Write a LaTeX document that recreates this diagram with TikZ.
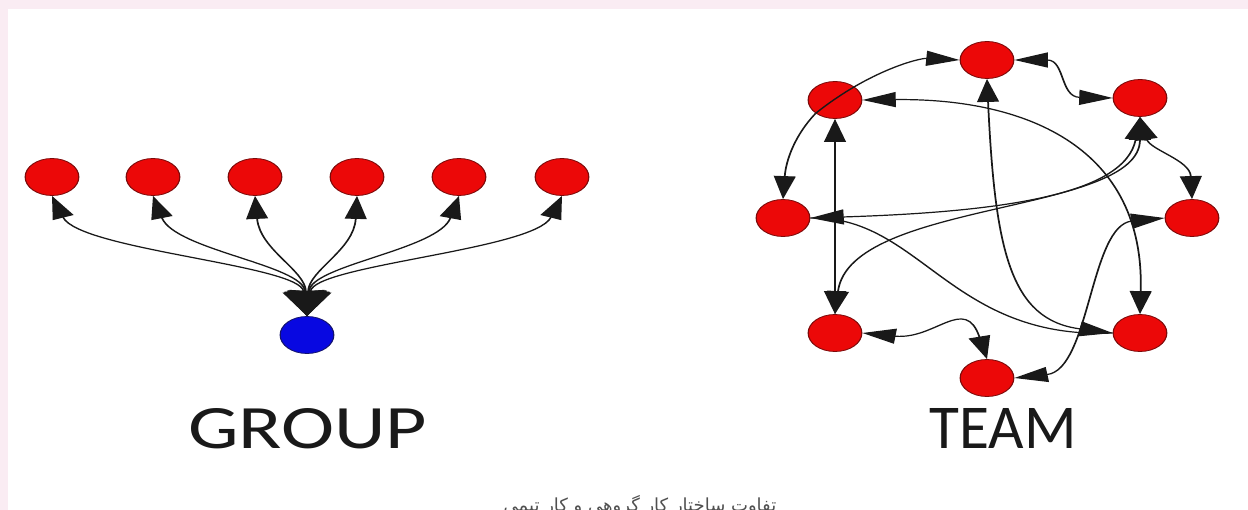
\documentclass[tikz,border=0pt]{standalone}
\usepackage{fontspec}
\usetikzlibrary{arrows.meta}
\newfontfamily\labelfont{Carlito}
\newfontfamily\arabicfont[Script=Arabic]{DejaVu Sans}
\TeXXeTstate=1
\definecolor{nodered}{RGB}{236,8,8}
\definecolor{noderim}{RGB}{125,10,10}
\definecolor{nodeblue}{RGB}{8,8,225}
\definecolor{bluerim}{RGB}{20,20,110}
\definecolor{framepink}{RGB}{250,236,243}
\definecolor{captiongray}{RGB}{80,80,80}
\tikzset{
  member/.style={circle, minimum size=37pt, inner sep=0pt, fill=nodered, draw=noderim, line width=0.8pt},
  leader/.style={member, fill=nodeblue, draw=bluerim},
  link/.style={line width=1.2pt, draw=black!90, >={Triangle[length=23pt,width=15pt]}},
  bigtip/.tip={Triangle[length=25pt,width=29pt]},
  caption/.style={anchor=base, text=captiongray, inner sep=0pt},
  title/.style={anchor=base, inner sep=0pt, text=black!90}
}
\begin{document}
\begin{tikzpicture}[x=1pt,y=-1pt]
\useasboundingbox (0,0) rectangle (1248,510);
\fill[framepink] (0,0) rectangle (1248,510);
\fill[white] (8,9) rectangle (1248,510);

% both diagrams are drawn on a canvas stretched horizontally
\begin{scope}[transform canvas={xscale=1.45}, x=0.689655pt, y=-1pt]
  % group: one leader, six members
  \node[member] (g1) at (52,177) {};
  \node[member] (g2) at (153,177) {};
  \node[member] (g3) at (255,177) {};
  \node[member] (g4) at (357,177) {};
  \node[member] (g5) at (459,177) {};
  \node[member] (g6) at (562,177) {};
  \node[leader] (b) at (307,335) {};

  \draw[link, arrows={bigtip->}] (b.north) .. controls (300,265) and (80,250) .. (g1.south);
  \draw[link, arrows={bigtip->}] (b.north) .. controls (303,265) and (175,250) .. (g2.south);
  \draw[link, arrows={bigtip->}] (b.north) .. controls (305,270) and (260,250) .. (g3.south);
  \draw[link, arrows={bigtip->}] (b.north) .. controls (309,270) and (354,250) .. (g4.south);
  \draw[link, arrows={bigtip->}] (b.north) .. controls (311,265) and (438,250) .. (g5.south);
  \draw[link, arrows={bigtip->}] (b.north) .. controls (314,265) and (534,250) .. (g6.south);

  % team: eight members linked to each other
  \node[member] (t1) at (987,60) {};
  \node[member] (t2) at (835,100) {};
  \node[member] (t3) at (1140,98) {};
  \node[member] (t4) at (783,218) {};
  \node[member] (t5) at (1192,218) {};
  \node[member] (t6) at (835,333) {};
  \node[member] (t7) at (1140,333) {};
  \node[member] (t8) at (987,378) {};

  \draw[link,->] (t2.225) .. controls (870,70) and (920,58) .. (t1.west);
  \draw[link,->] (t2.225) .. controls (795,135) and (786,160) .. (t4.north);
  \draw[link,<->] (t2.south) -- (t6.north);
  \draw[link,<->] (t1.east) .. controls (1065,60) and (1060,97) .. (t3.west);
  \draw[link,<->] (t2.east) .. controls (1030,98) and (1145,150) .. (t7.north);
  \draw[link,<->] (t1.south) .. controls (995,250) and (1010,320) .. (t7.west);
  \draw[link] (t4.east) .. controls (920,215) and (950,340) .. (t7.west);
  \draw[link,<->] (t3.south) .. controls (1125,195) and (1000,212) .. (t4.east);
  \draw[link,<->] (t3.south) .. controls (1140,215) and (850,200) .. (t6.north);
  \draw[link,<->] (t3.south) .. controls (1150,150) and (1190,160) .. (t5.north);
  \draw[link,<->] (t5.west) .. controls (1090,225) and (1090,370) .. (t8.east);
  \draw[link,<->] (t6.east) .. controls (935,340) and (965,295) .. (t8.north);
\end{scope}

\node[title] (grouplabel) at (307.5,449) {\resizebox{239pt}{40pt}{\labelfont GROUP}};
\node[title] (teamlabel) at (1003,449) {\resizebox{147pt}{40pt}{\labelfont TEAM}};
\node[caption] (captionline) at (640,511) {\arabicfont\fontsize{18}{21}\selectfont\beginR تفاوت ساختار کار گروهی و کار تیمی\endR};
\end{tikzpicture}
\end{document}
